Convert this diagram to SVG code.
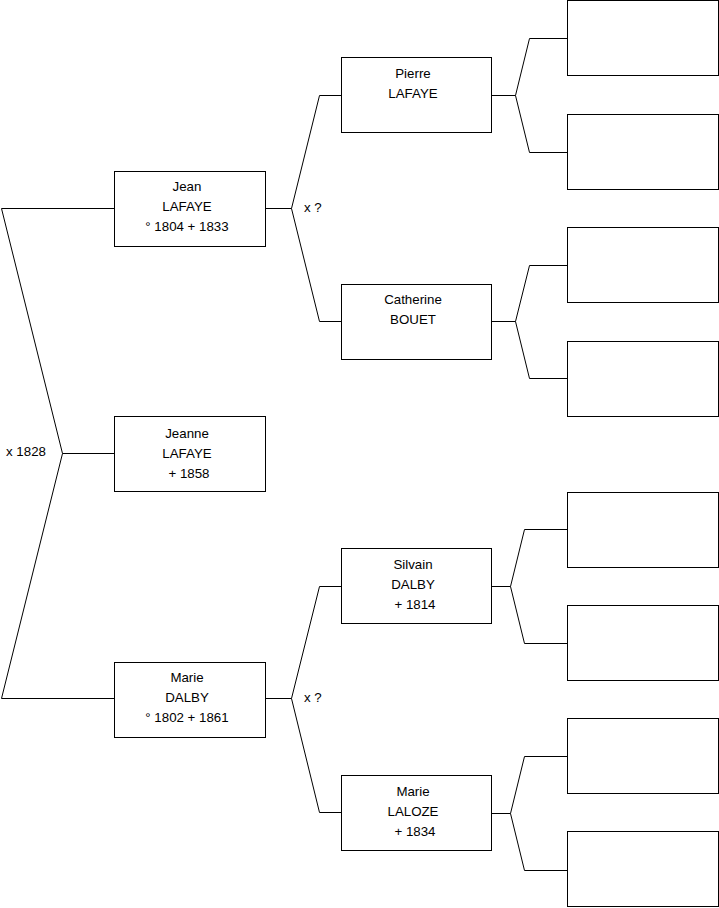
<svg xmlns="http://www.w3.org/2000/svg" width="719" height="908" viewBox="0 0 719 908">
<style>
.b{fill:#fff;stroke:#000;stroke-width:1}
.c{fill:none;stroke:#000;stroke-width:1}
text{font-family:"Liberation Sans",Arial,sans-serif;font-size:13.3px;fill:#000}
.m{text-anchor:middle}
</style>
<rect width="719" height="908" fill="#fff"/>
<g id="connectors">
<path class="c" d="M114.5,208.5 H1.5 L62.5,453.5 L1.5,698.5 H114.5 M62.5,453.5 H114.5"/>
<path class="c" d="M265.5,208.5 H291.5 M319.5,95.5 L291.5,208.5 L319.5,321.5 M319.5,95.5 H341.5 M319.5,321.5 H341.5"/>
<path class="c" d="M265.5,698.5 H291.5 M319.5,586.5 L291.5,698.5 L319.5,812.5 M319.5,586.5 H341.5 M319.5,812.5 H341.5"/>
<path class="c" d="M491.5,95.5 H515.5 M567.5,38.5 H529.5 L515.5,95.5 L529.5,152.5 H567.5"/>
<path class="c" d="M491.5,321.5 H515.5 M567.5,265.5 H529.5 L515.5,321.5 L529.5,378.5 H567.5"/>
<path class="c" d="M491.5,586.5 H510.5 M567.5,529.5 H524.5 L510.5,586.5 L524.5,643.5 H567.5"/>
<path class="c" d="M491.5,813.5 H510.5 M567.5,756.5 H524.5 L510.5,813.5 L524.5,870.5 H567.5"/>
<text x="6" y="456">x 1828</text>
<text x="304" y="212">x ?</text>
<text x="304" y="702">x ?</text>
</g>
<g id="jean"><rect class="b" x="114.5" y="171.5" width="151" height="75"/>
<text class="m" x="187" y="191">Jean</text><text class="m" x="187" y="211">LAFAYE</text><text class="m" x="187" y="231">° 1804 + 1833</text></g>
<g id="jeanne"><rect class="b" x="114.5" y="416.5" width="151" height="75"/>
<text class="m" x="187" y="438">Jeanne</text><text class="m" x="187" y="458">LAFAYE</text><text class="m" x="189" y="478">+ 1858</text></g>
<g id="marie-dalby"><rect class="b" x="114.5" y="662.5" width="151" height="75"/>
<text class="m" x="187" y="682">Marie</text><text class="m" x="187" y="702">DALBY</text><text class="m" x="187" y="722">° 1802 + 1861</text></g>
<g id="pierre"><rect class="b" x="341.5" y="57.5" width="150" height="75"/>
<text class="m" x="413" y="78">Pierre</text><text class="m" x="413" y="98">LAFAYE</text></g>
<g id="catherine"><rect class="b" x="341.5" y="284.5" width="150" height="75"/>
<text class="m" x="413" y="304">Catherine</text><text class="m" x="413" y="324">BOUET</text></g>
<g id="silvain"><rect class="b" x="341.5" y="548.5" width="150" height="75"/>
<text class="m" x="413" y="569">Silvain</text><text class="m" x="413" y="589">DALBY</text><text class="m" x="415" y="609">+ 1814</text></g>
<g id="marie-laloze"><rect class="b" x="341.5" y="775.5" width="150" height="75"/>
<text class="m" x="413" y="796">Marie</text><text class="m" x="413" y="816">LALOZE</text><text class="m" x="415" y="836">+ 1834</text></g>
<g id="g1"><rect class="b" x="567.5" y="0.5" width="151" height="75"/></g>
<g id="g2"><rect class="b" x="567.5" y="114.5" width="151" height="75"/></g>
<g id="g3"><rect class="b" x="567.5" y="227.5" width="151" height="75"/></g>
<g id="g4"><rect class="b" x="567.5" y="341.5" width="151" height="75"/></g>
<g id="g5"><rect class="b" x="567.5" y="492.5" width="151" height="75"/></g>
<g id="g6"><rect class="b" x="567.5" y="605.5" width="151" height="75"/></g>
<g id="g7"><rect class="b" x="567.5" y="718.5" width="151" height="75"/></g>
<g id="g8"><rect class="b" x="567.5" y="831.5" width="151" height="75"/></g>
</svg>
